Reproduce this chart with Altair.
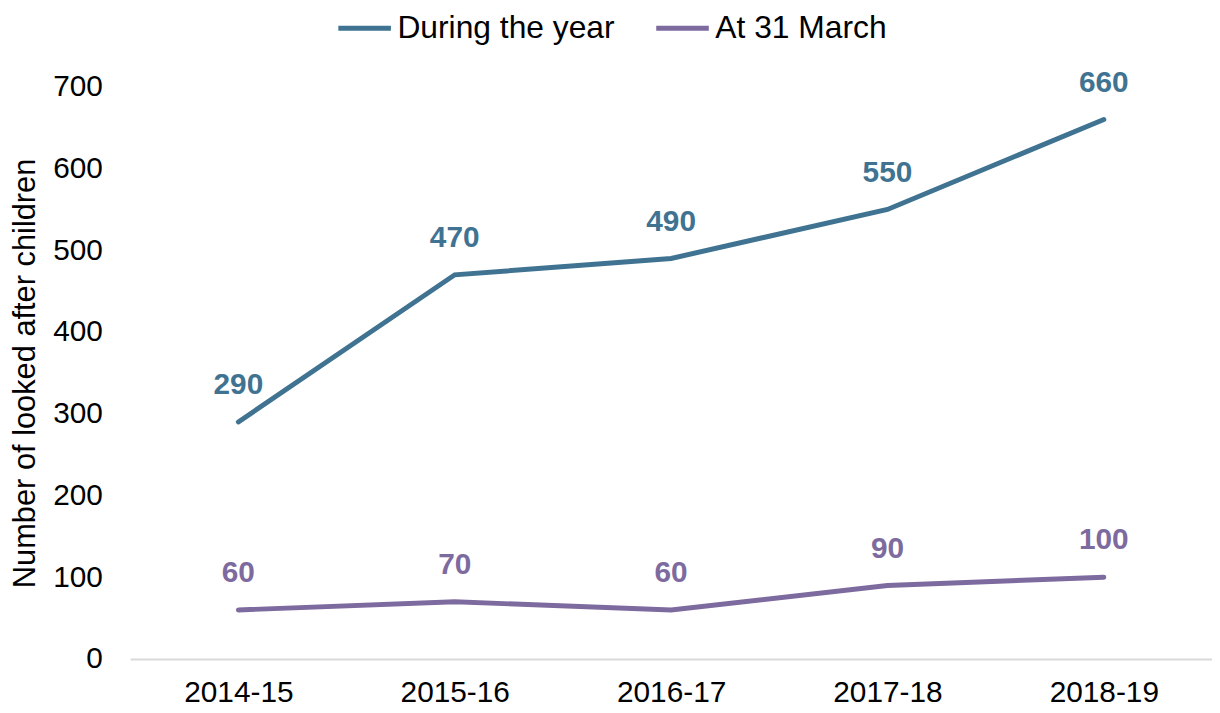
import altair as alt
import pandas as pd

years = ["2014-15", "2015-16", "2016-17", "2017-18", "2018-19"]
during_year = [290, 470, 490, 550, 660]
at_31_march = [60, 70, 60, 90, 100]
series_names = ["During the year", "At 31 March"]
colors = ["#3F7391", "#7D6A9E"]

rows = []
for y, v in zip(years, during_year):
    rows.append({"year": y, "value": v, "series": series_names[0]})
for y, v in zip(years, at_31_march):
    rows.append({"year": y, "value": v, "series": series_names[1]})
df = pd.DataFrame(rows)

FONT = "Liberation Sans"

x = alt.X("year:N", sort=years, title=None,
          scale=alt.Scale(type="point", padding=0.5),
          axis=alt.Axis(labelAngle=0, labelFontSize=30, labelFont=FONT, labelColor="#000000",
                        ticks=False, domainColor="#D9D9D9", domainWidth=2, labelPadding=19))
y = alt.Y("value:Q", title="Number of looked after children",
          scale=alt.Scale(domain=[0, 700], nice=False),
          axis=alt.Axis(values=list(range(0, 701, 100)), grid=False, domain=False, ticks=False,
                        labelFontSize=30, labelFont=FONT, labelColor="#000000", labelPadding=28,
                        titleFontSize=31, titleFont=FONT, titleFontWeight="normal",
                        titleColor="#000000", titlePadding=11))
color = alt.Color("series:N", sort=series_names,
                  scale=alt.Scale(domain=series_names, range=colors),
                  legend=alt.Legend(title=None, orient="none", direction="horizontal",
                                    legendX=207, legendY=-88,
                                    symbolType="stroke", symbolSize=2800, symbolStrokeWidth=5,
                                    labelFontSize=32, labelFont=FONT, labelColor="#000000",
                                    labelLimit=0, columnPadding=31, labelOffset=4))

lines = alt.Chart(df).mark_line(strokeWidth=5, strokeCap="round").encode(x=x, y=y, color=color)
labels = alt.Chart(df).mark_text(fontSize=30, font=FONT, fontWeight="bold", dy=-37,
                                 baseline="middle").encode(
    x=alt.X("year:N", sort=years, scale=alt.Scale(type="point", padding=0.5)),
    y=alt.Y("value:Q"),
    text="value:Q",
    color=alt.Color("series:N", sort=series_names,
                    scale=alt.Scale(domain=series_names, range=colors), legend=None),
)

chart = (lines + labels).properties(
    width=1089, height=576, background="white",
    autosize=alt.AutoSizeParams(type="none"),
    padding={"left": 123, "top": 77, "right": 0, "bottom": 50}
).configure_view(stroke=None)

chart.save("out.html", embed_options={"renderer": "svg", "actions": False})
